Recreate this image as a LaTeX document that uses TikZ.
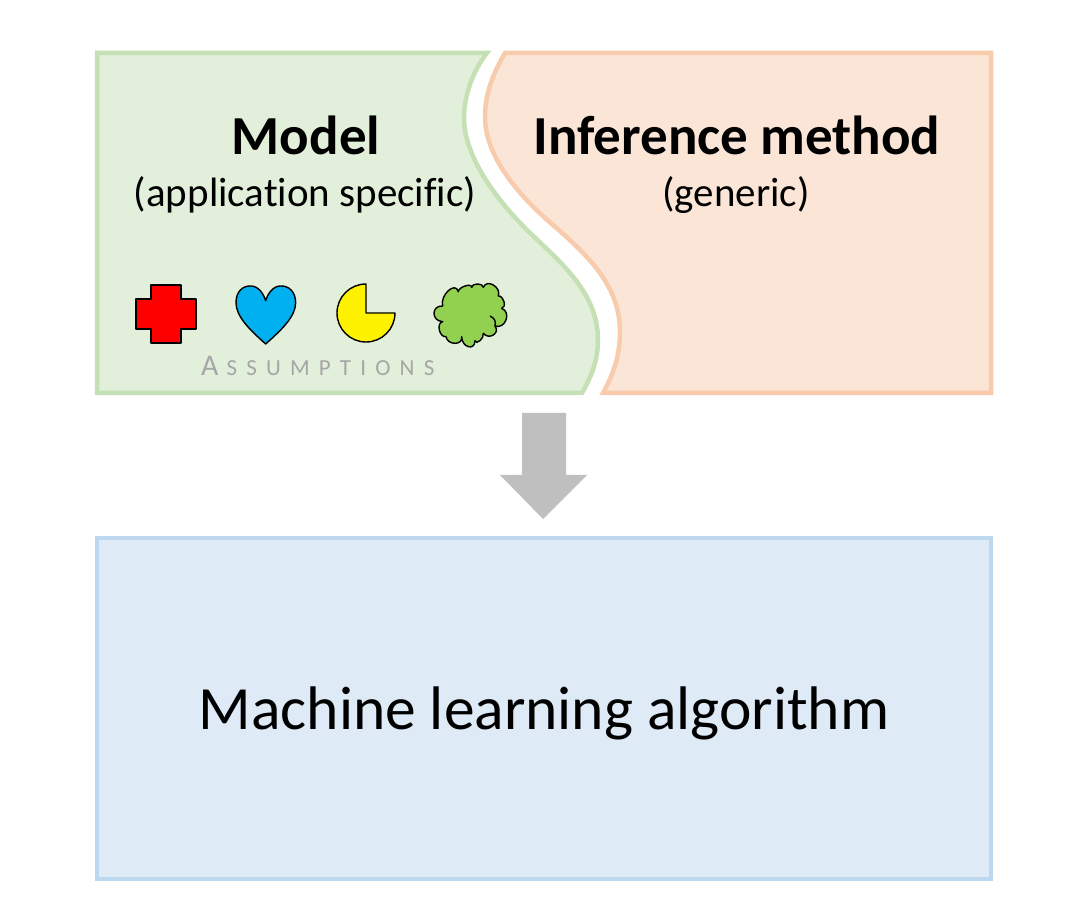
\documentclass[tikz,border=0pt]{standalone}
\usepackage{fontspec}
\setmainfont[Ligatures=CommonOff]{Carlito}
\definecolor{greenfill}{HTML}{E2EFDA}
\definecolor{greenline}{HTML}{C5E0B4}
\definecolor{orangefill}{HTML}{FBE5D6}
\definecolor{orangeline}{HTML}{F8CBAD}
\definecolor{bluefill}{HTML}{DEEAF6}
\definecolor{blueline}{HTML}{BDD7EE}
\definecolor{cloudgreen}{HTML}{92D050}
\definecolor{heartblue}{HTML}{00B0F0}
\begin{document}
\begin{tikzpicture}[x=1pt,y=1pt]
  \tikzstyle{panel}=[line width=4.5pt,line join=miter]
  \tikzstyle{icon}=[draw=black,line width=1.4pt,line join=round]
  \tikzstyle{headline}=[font=\fontsize{55}{58}\selectfont\bfseries,inner sep=0pt,anchor=base]
  \tikzstyle{subline}=[font=\fontsize{41}{44}\selectfont,inner sep=0pt,anchor=base]
  \useasboundingbox (0,0) rectangle (1080,922);
  % the two top panels
  \draw [panel,draw=greenline,fill=greenfill] (97,869) -- (487,869)
    .. controls (472,850) and (464,825) .. (464,804)
    .. controls (464,765) and (497,722) .. (527,692)
    .. controls (560,660) and (598,630) .. (598,582)
    .. controls (598,560) and (590,543) .. (582,529)
    -- (97,529) -- cycle;
  \draw [panel,draw=orangeline,fill=orangefill] (505,869)
    .. controls (494,850) and (485,830) .. (485,805)
    .. controls (485,765) and (520,725) .. (553,697)
    .. controls (590,665) and (620,635) .. (620,590)
    .. controls (620,565) and (612,545) .. (603,529)
    -- (991,529) -- (991,869) -- cycle;
  % bottom panel
  \node [panel,draw=blueline,fill=bluefill,minimum width=894pt,minimum height=341pt,
    inner sep=0pt,outer sep=0pt,anchor=south west] (algo) at (97,43) {};
  \node [inner sep=0pt,anchor=base,font=\fontsize{61.5}{64}\selectfont] (algotext) at (544,192)
    {Machine learning algorithm};
  \fill [black!25] (522,509) -- (566,509) -- (566,447) -- (587,447) -- (543,403)
    -- (500,447) -- (522,447) -- cycle;
  \node [headline] (model) at (306,767) {Model};
  \node [subline] (modelsub) at (305,715) {(application specific)};
  \node [headline] (method) at (737,767) {Inference method};
  \node [subline] (methodsub) at (736,715) {(generic)};
  % assumptions
  \draw [icon,fill=red] (151,637) -- (181,637) -- (181,623) -- (196,623) -- (196,593)
    -- (181,593) -- (181,579) -- (151,579) -- (151,593) -- (136,593) -- (136,623)
    -- (151,623) -- cycle;
  \begin{scope}[shift={(230,642)},x=0.3333pt,y=-0.3333pt]
    \draw [icon,fill=heartblue] (107,192)
      .. controls (60,150) and (18,110) .. (18,68)
      .. controls (18,35) and (38,17) .. (62,18)
      .. controls (85,18) and (100,40) .. (107,62)
      .. controls (114,40) and (129,18) .. (152,18)
      .. controls (176,17) and (197,35) .. (197,68)
      .. controls (197,110) and (154,150) .. (107,192) -- cycle;
  \end{scope}
  \draw [icon,fill=yellow] (366,609) -- (366,638) arc (90:360:29) -- cycle;
  \begin{scope}[shift={(430,642)},x=0.3333pt,y=-0.3333pt]
    \draw [icon,fill=cloudgreen] (38,78)
      .. controls (29.3,45.3) and (76.3,2.3) .. (85,35)
      .. controls (85,21) and (125,8) .. (125,22)
      .. controls (125,8.7) and (160,8.7) .. (160,22)
      .. controls (170,-4.7) and (215,21.3) .. (205,48)
      .. controls (221,46) and (231,83) .. (215,85)
      .. controls (245.7,96.3) and (225.7,149.3) .. (195,138)
      .. controls (211.7,159.3) and (176.7,181.3) .. (160,160)
      .. controls (163.3,174.7) and (138.3,196.7) .. (135,182)
      .. controls (135,214) and (95,202) .. (95,170)
      .. controls (99.7,196.7) and (52.7,196.7) .. (48,170)
      .. controls (28,173.3) and (18,128.3) .. (38,125)
      .. controls (3.3,123) and (3.3,76) .. (38,78) -- cycle;
    \draw [icon] (180,108) .. controls (195,115) and (198,125) .. (195,138);
  \end{scope}
  \node [inner sep=0pt,text=black!35,anchor=base west] (assume) at (201,546)
    {\fontsize{30}{30}\selectfont A\hspace{8pt}\addfontfeature{LetterSpace=40}\fontsize{23}{24}\selectfont SSUMPTIONS};
\end{tikzpicture}
\end{document}
